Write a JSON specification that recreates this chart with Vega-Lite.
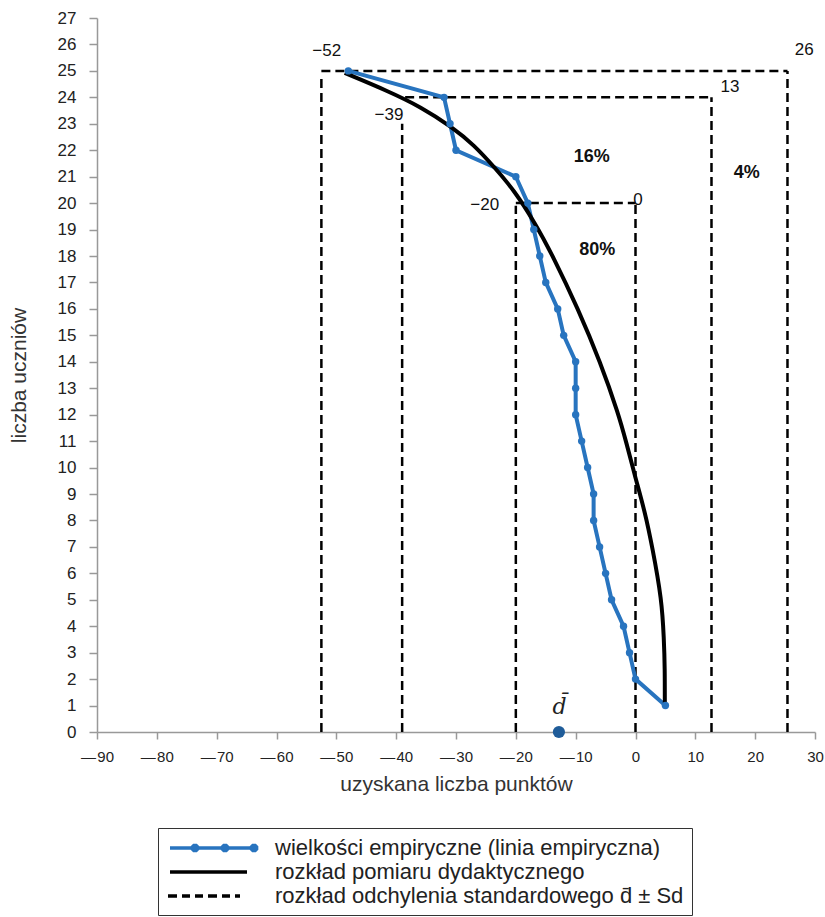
{
  "$schema": "https://vega.github.io/schema/vega-lite/v6.json",
  "autosize": {"type": "pad"},
  "padding": {"left": 8, "top": 9, "right": 0, "bottom": 0},
  "width": 718,
  "height": 714,
  "background": "white",
  "config": {"view": {"stroke": null}},
  "datasets": {
    "emp": [
      {"x": -48, "y": 25}, {"x": -32, "y": 24}, {"x": -31, "y": 23}, {"x": -30, "y": 22},
      {"x": -20, "y": 21}, {"x": -18, "y": 20}, {"x": -17, "y": 19}, {"x": -16, "y": 18},
      {"x": -15, "y": 17}, {"x": -13, "y": 16}, {"x": -12, "y": 15}, {"x": -10, "y": 14},
      {"x": -10, "y": 13}, {"x": -10, "y": 12}, {"x": -9, "y": 11}, {"x": -8, "y": 10},
      {"x": -7, "y": 9}, {"x": -7, "y": 8}, {"x": -6, "y": 7}, {"x": -5, "y": 6},
      {"x": -4, "y": 5}, {"x": -2, "y": 4}, {"x": -1, "y": 3}, {"x": 0, "y": 2}, {"x": 5, "y": 1}
    ],
    "fit": [
      {"x": -48.6, "y": 24.92}, {"x": -41.5, "y": 24.25}, {"x": -35.8, "y": 23.63}, {"x": -30.7, "y": 22.88},
      {"x": -27, "y": 22.2}, {"x": -23.6, "y": 21.36}, {"x": -20.3, "y": 20.49}, {"x": -16.8, "y": 19.25},
      {"x": -13.8, "y": 18}, {"x": -9.6, "y": 16}, {"x": -5.9, "y": 14}, {"x": -2.8, "y": 12},
      {"x": -1.6, "y": 11}, {"x": 0, "y": 9.6}, {"x": 1.6, "y": 8.3}, {"x": 2.8, "y": 7},
      {"x": 4.4, "y": 5}, {"x": 4.75, "y": 3.5}, {"x": 4.9, "y": 2.45}, {"x": 4.9, "y": 1.02}
    ],
    "vrules": [
      {"x": -52.5, "y": 0, "y2": 24.85}, {"x": -39, "y": 0, "y2": 23.0}, {"x": -20, "y": 0, "y2": 19.9},
      {"x": 0, "y": 0, "y2": 20}, {"x": 12.7, "y": 0, "y2": 24}, {"x": 25.4, "y": 0, "y2": 25}
    ],
    "hrules": [
      {"x": -52.5, "x2": 25.4, "y": 25}, {"x": -38.5, "x2": 12.7, "y": 24}, {"x": -20, "x2": 0, "y": 20}
    ],
    "nums": [
      {"x": -51.6, "y": 25.76, "t": "−52"}, {"x": 28.2, "y": 25.79, "t": "26"},
      {"x": 15.8, "y": 24.39, "t": "13"}, {"x": -41.2, "y": 23.33, "t": "−39"},
      {"x": -25.2, "y": 19.93, "t": "−20"}, {"x": 0.4, "y": 20.12, "t": "0"}
    ],
    "pct": [
      {"x": -7.3, "y": 21.74, "t": "16%"}, {"x": -6.4, "y": 18.23, "t": "80%"}, {"x": 18.6, "y": 21.14, "t": "4%"}
    ],
    "mean": [{"x": -12.8, "y": 0}],
    "meanlab": [{"x": -12.7, "y": 0.94, "t": "d̄"}]
  },
  "encoding": {
    "x": {
      "field": "x", "type": "quantitative",
      "scale": {"domain": [-90, 30], "nice": false, "zero": false},
      "axis": {
        "title": "uzyskana liczba punktów",
        "values": [-90, -80, -70, -60, -50, -40, -30, -20, -10, 0, 10, 20, 30],
        "labelExpr": "datum.value < 0 ? '—\u200a' + abs(datum.value) : '' + datum.value",
        "grid": false, "tickSize": 7, "labelPadding": 10,
        "domainColor": "#999999", "domainWidth": 1.5, "tickColor": "#999999", "tickWidth": 1.5,
        "labelFont": "Liberation Sans", "labelFontSize": 15, "labelColor": "#222222",
        "labelFlush": false, "labelOverlap": false,
        "titleFont": "Liberation Sans", "titleFontSize": 21, "titleFontWeight": "normal",
        "titleColor": "#333333", "titlePadding": 9
      }
    },
    "y": {
      "field": "y", "type": "quantitative",
      "scale": {"domain": [0, 27], "nice": false},
      "axis": {
        "title": "liczba uczniów",
        "values": [0, 1, 2, 3, 4, 5, 6, 7, 8, 9, 10, 11, 12, 13, 14, 15, 16, 17, 18, 19, 20, 21, 22, 23, 24, 25, 26, 27],
        "grid": false, "tickSize": 8, "labelPadding": 13,
        "domainColor": "#999999", "domainWidth": 1.5, "tickColor": "#999999", "tickWidth": 1.5,
        "labelFont": "Liberation Sans", "labelFontSize": 17, "labelColor": "#222222",
        "labelOverlap": false,
        "titleFont": "Liberation Sans", "titleFontSize": 21, "titleFontWeight": "normal",
        "titleColor": "#333333", "titlePadding": 28
      }
    }
  },
  "layer": [
    {
      "data": {"name": "vrules"},
      "mark": {"type": "rule", "strokeDash": [9, 5], "strokeWidth": 2.5},
      "encoding": {
        "y2": {"field": "y2"},
        "color": {
          "datum": "rozkład odchylenia standardowego d̄ ± Sd",
          "scale": {
            "domain": ["wielkości empiryczne (linia empiryczna)", "rozkład pomiaru dydaktycznego", "rozkład odchylenia standardowego d̄ ± Sd"],
            "range": ["#2874BF", "#000000", "#000000"]
          },
          "legend": {
            "orient": "none", "legendX": 61, "legendY": 810, "title": null, "direction": "vertical",
            "strokeColor": "#333333", "padding": 8, "rowPadding": 1,
            "labelFont": "Liberation Sans", "labelFontSize": 22, "labelColor": "#222222",
            "labelOffset": 85, "labelLimit": 700,
            "symbolSize": 400, "symbolStrokeWidth": 3.5, "symbolOffset": 0, "symbolType": "stroke",
            "encode": {
              "symbols": {
                "update": {
                  "shape": {"signal": "datum.index === 0 ? 'M-0.8,0L8.0,0M1.96,0.11L1.81,0.26L1.59,0.26L1.44,0.11L1.44,-0.11L1.59,-0.26L1.81,-0.26L1.96,-0.11ZM4.96,0.11L4.81,0.26L4.59,0.26L4.44,0.11L4.44,-0.11L4.59,-0.26L4.81,-0.26L4.96,-0.11ZM7.86,0.11L7.71,0.26L7.49,0.26L7.34,0.11L7.34,-0.11L7.49,-0.26L7.71,-0.26L7.86,-0.11Z' : (datum.index === 1 ? 'M-0.8,0L6.9,0' : 'M-1.0,0L-0.1,0M0.4,0L1.2,0M1.7,0L2.5,0M3.0,0L3.9,0M4.4,0L5.2,0M5.7,0L6.2,0')"},
                  "fill": {"signal": "datum.index === 0 ? '#2874BF' : 'transparent'"}
                }
              }
            }
          }
        }
      }
    },
    {
      "data": {"name": "hrules"},
      "mark": {"type": "rule", "strokeDash": [9, 5], "strokeWidth": 2.5, "color": "#000000"},
      "encoding": {
        "x2": {"field": "x2"}
      }
    },
    {
      "data": {"name": "emp"},
      "mark": {"type": "line", "strokeWidth": 4, "color": "#2874BF"},
      "encoding": {
        "order": {"field": "y", "type": "quantitative"}
      }
    },
    {
      "data": {"name": "fit"},
      "mark": {"type": "line", "strokeWidth": 4, "color": "#000000", "interpolate": "basis"},
      "encoding": {
        "order": {"field": "y", "type": "quantitative"}
      }
    },
    {
      "data": {"name": "emp"},
      "mark": {"type": "point", "filled": true, "size": 55, "opacity": 1, "color": "#2874BF"},
      "encoding": {}
    },
    {
      "data": {"name": "mean"},
      "mark": {"type": "point", "filled": true, "size": 150, "opacity": 1, "color": "#1F5C99", "shape": "circle"},
      "encoding": {}
    },
    {
      "data": {"name": "nums"},
      "mark": {"type": "text", "font": "Liberation Sans", "fontSize": 17, "color": "#111111", "baseline": "middle", "align": "center"},
      "encoding": {"text": {"field": "t"}}
    },
    {
      "data": {"name": "pct"},
      "mark": {"type": "text", "font": "Liberation Sans", "fontSize": 18, "fontWeight": "bold", "color": "#111111", "baseline": "middle", "align": "center"},
      "encoding": {"text": {"field": "t"}}
    },
    {
      "data": {"name": "meanlab"},
      "mark": {"type": "text", "font": "DejaVu Serif", "fontSize": 22, "fontStyle": "italic", "color": "#222222", "baseline": "middle", "align": "center"},
      "encoding": {"text": {"field": "t"}}
    }
  ]
}
